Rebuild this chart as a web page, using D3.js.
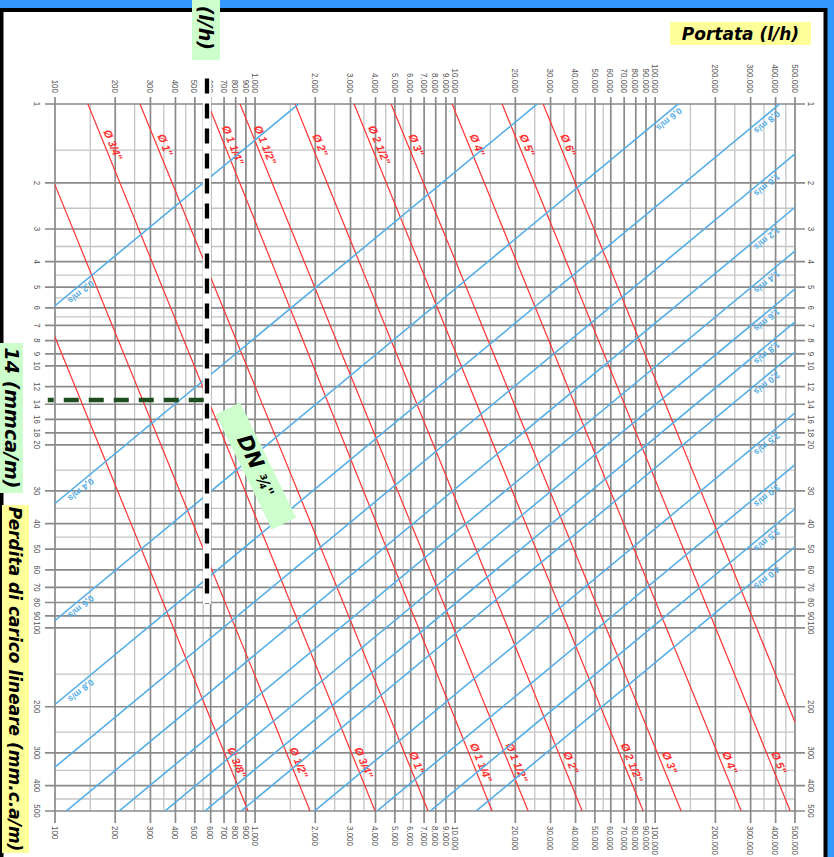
<!DOCTYPE html>
<meta charset='utf-8'>
<style>

body { margin: 0; background: #3399ff; overflow: hidden; }
svg { display: block; }
svg text { font-family: 'Liberation Sans', Arial, sans-serif; }
.grid .major { stroke: #8a8a8a; stroke-width: 1.7; }
.grid .minor { stroke: #c4c4c4; stroke-width: 1.3; }
.tick-lbl { font-size: 9.5px; fill: #555; }
.pipes path { fill: none; stroke: #ff3333; stroke-width: 1.2; }
.pipes text { fill: #ff3030; font-size: 11px; font-style: italic; font-weight: bold; }
.vels path { fill: none; stroke: #55aee6; stroke-width: 1.6; }
.vels text { fill: #55aee6; font-size: 9px; font-weight: bold; }
.note { font-family: 'DejaVu Sans', Verdana, sans-serif !important; font-weight: bold; font-style: italic; fill: #000; }

</style>

<script src='https://d3js.org/d3.v7.min.js'></script>

<script>
window.onload = () => {
'use strict'

// Data (flow l/h vs. head loss mm.c.a/m, both log)

let flowTicks = [100, 200, 300, 400, 500, 600, 700, 800, 900,
		1000, 2000, 3000, 4000, 5000, 6000, 7000, 8000, 9000,
		10000, 20000, 30000, 40000, 50000, 60000, 70000, 80000, 90000,
		100000, 200000, 300000, 400000, 500000],
	flowMinor = [150, 250, 350, 450, 550, 1500, 2500, 3500, 4500, 5500,
		15000, 25000, 35000, 45000, 55000, 150000, 250000, 350000, 450000],
	lossTicks = [1, 2, 3, 4, 5, 6, 7, 8, 9, 10, 12, 14, 16, 18, 20,
		30, 40, 50, 60, 70, 80, 90, 100, 200, 300, 400, 500],
	lossMinor = [1.5, 2.5, 3.5, 4.5, 5.5, 6.5, 25, 35, 45, 150, 250, 350, 450]

// pipe diameters: flow at 1 mm/m and at 500 mm/m
let pipes = ['3/8"', '1/2"', '3/4"', '1"', '1 1/4"', '1 1/2"', '2"', '2 1/2"', '3"', '4"', '5"', '6"'],
	pipeFlowAt1 = [33.5, 68.4, 146, 266, 582, 841, 1585, 3126, 4786, 9660, 17180, 27540],
	pipeFlowAt500 = [923, 1884, 3981, 7328, 15310, 23170, 43150, 87100, 134900, 269200, 473200, 758600]

// velocity lines: head loss at 100 l/h and at 500.000 l/h
let vels = ['0,2', '0,4', '0,6', '0,8', '1,0', '1,2', '1,4', '1,6', '1,8', '2,0', '2,5', '3,0', '3,5', '4,0'],
	velLossAt100 = [5.89, 33.5, 93.7, 196, 340, 543, 798, 1114, 1490, 1940, 3311, 5224, 7690, 10750],
	velLossAt500k = [0.0269, 0.153, 0.427, 0.894, 1.55, 2.48, 3.64, 5.08, 6.79, 8.85, 15.1, 23.8, 35.1, 49.0],
	velLeftLabels = ['0,2', '0,4', '0,6', '0,8'],
	velRightLabels = ['0,6', '0,8', '1,0', '1,2', '1,4', '1,6', '1,8', '2,0', '2,5', '3,0', '3,5', '4,0']

// worked example: DN 3/4" at ~600 l/h -> 14 mm/m
let exFlow = 575, exLoss = 13.5


// Basic d3 boilerplate

let width = 834, height = 857,
	box = {left: 55, right: 795, top: 104, bottom: 811}

let svg = d3.select('body').append('svg')
	.attr('width', width).attr('height', height)

svg.append('rect')
	.attr('x', 1.5).attr('y', 10).attr('width', 824).attr('height', 900)
	.attr('fill', '#fff').attr('stroke', '#000').attr('stroke-width', 4)

let x = d3.scaleLog([100, 500000], [box.left, box.right]),
	y = d3.scaleLog([1, 500], [box.top, box.bottom]),
	fmt = d3.formatLocale({decimal: ',', thousands: '.', grouping: [3], currency: ['', '']}).format(',')

svg.append('clipPath').attr('id', 'plot')
	.append('rect').attr('x', box.left).attr('y', box.top)
	.attr('width', box.right - box.left).attr('height', box.bottom - box.top)

// Grid

let grid = svg.append('g').attr('class', 'grid')
grid.selectAll('line.vmin').data(flowMinor).join('line').attr('class', 'minor')
	.attr('x1', d => x(d)).attr('x2', d => x(d)).attr('y1', box.top).attr('y2', box.bottom)
grid.selectAll('line.hmin').data(lossMinor).join('line').attr('class', 'minor')
	.attr('y1', d => y(d)).attr('y2', d => y(d)).attr('x1', box.left).attr('x2', box.right)
grid.selectAll('line.vmaj').data(flowTicks).join('line').attr('class', 'major')
	.attr('x1', d => x(d)).attr('x2', d => x(d)).attr('y1', box.top - 7).attr('y2', box.bottom + 12)
grid.selectAll('line.hmaj').data(lossTicks).join('line').attr('class', 'major')
	.attr('y1', d => y(d)).attr('y2', d => y(d)).attr('x1', box.left - 10).attr('x2', box.right + 10)

// Tick labels (all rotated, like the scanned sheet; narrow as on the print)

let lbl = svg.append('g')
lbl.selectAll('text.top').data(flowTicks).join('text').attr('class', 'tick-lbl')
	.attr('transform', d => `translate(${x(d)},93) rotate(90) scale(.84,1)`)
	.attr('text-anchor', 'end').attr('dy', '.35em').text(fmt)
lbl.selectAll('text.bot').data(flowTicks).join('text').attr('class', 'tick-lbl')
	.attr('transform', d => `translate(${x(d)},826) rotate(90) scale(.84,1)`)
	.attr('dy', '.35em').text(fmt)
for (let lx of [37.5, 811])
	lbl.selectAll(null).data(lossTicks).join('text').attr('class', 'tick-lbl')
		.attr('transform', d => `translate(${lx},${y(d)}) rotate(90) scale(.84,1)`)
		.attr('text-anchor', 'middle').attr('dy', '.35em').text(d => d)

// Pipe and velocity lines

let line = d3.line().x(d => x(d[0])).y(d => y(d[1])),
	angle = (p, q) => Math.atan2(y(q[1]) - y(p[1]), x(q[0]) - x(p[0])) * 180 / Math.PI,
	// point on a log-log straight line at given loss / flow
	atLoss = (p, q, j) => [p[0] * Math.pow(q[0] / p[0], Math.log(j / p[1]) / Math.log(q[1] / p[1])), j],
	atFlow = (p, q, f) => [f, p[1] * Math.pow(q[1] / p[1], Math.log(f / p[0]) / Math.log(q[0] / p[0]))]

let pipeData = pipes.map((name, i) => ({name, p: [pipeFlowAt1[i], 1], q: [pipeFlowAt500[i], 500]})),
	velData = vels.map((name, i) => ({name, p: [100, velLossAt100[i]], q: [500000, velLossAt500k[i]]}))

let pg = svg.append('g').attr('class', 'pipes')
pg.append('g').attr('clip-path', 'url(#plot)')
	.selectAll('path').data(pipeData).join('path').attr('d', d => line([d.p, d.q]))

let pipeLabels = []
for (let d of pipeData) for (let j of [1.47, 335]) {
	let pt = atLoss(d.p, d.q, j)
	if (pt[0] >= 100 && pt[0] <= 500000) pipeLabels.push({d, pt})
}
pg.selectAll('text').data(pipeLabels).join('text')
	.attr('transform', l => `translate(${x(l.pt[0])},${y(l.pt[1])}) rotate(${angle(l.d.p, l.d.q)})`)
	.attr('text-anchor', 'middle').attr('y', -4)
	.text(l => `Ø ${l.d.name}`)

let vg = svg.append('g').attr('class', 'vels')
vg.append('g').attr('clip-path', 'url(#plot)')
	.selectAll('path').data(velData).join('path').attr('d', d => line([d.p, d.q]))

let velLabels = []
for (let d of velData) {
	if (velLeftLabels.includes(d.name)) velLabels.push({d, pt: atFlow(d.p, d.q, x.invert(77))})
	if (velRightLabels.includes(d.name)) {
		let xr = Math.min(763, x(atLoss(d.p, d.q, 1)[0]) - 13)
		velLabels.push({d, pt: atFlow(d.p, d.q, x.invert(xr))})
	}
}
vg.selectAll('text').data(velLabels).join('text')
	.attr('transform', l => `translate(${x(l.pt[0])},${y(l.pt[1])}) rotate(${angle(l.d.p, l.d.q) + 180})`)
	.attr('text-anchor', 'middle').attr('y', -3)
	.text(l => `${l.d.name} m/s`)

// Worked example overlay

let ex = svg.append('g')
ex.append('line')
	.attr('x1', x(exFlow)).attr('x2', x(exFlow)).attr('y1', y(0.8)).attr('y2', y(81))
	.attr('stroke', '#fff').attr('stroke-width', 8)
ex.append('line')
	.attr('x1', x(exFlow)).attr('x2', x(exFlow)).attr('y1', y(0.8)).attr('y2', y(81))
	.attr('stroke', '#000').attr('stroke-width', 4.3).attr('stroke-dasharray', '15 10')
ex.append('line')
	.attr('x1', x(92)).attr('x2', x(exFlow + 5)).attr('y1', y(exLoss)).attr('y2', y(exLoss))
	.attr('stroke', '#1f4d1f').attr('stroke-width', 4.5).attr('stroke-dasharray', '6 10 15 10 15 10 15 10 15 10 15 10 15 10')

let dn = ex.append('g').attr('transform', 'translate(256,466) rotate(64)')
dn.append('rect').attr('x', -64).attr('y', -13.5).attr('width', 128).attr('height', 27).attr('fill', '#ccffcc')
dn.append('text').attr('class', 'note').attr('text-anchor', 'middle').attr('dy', '.36em')
	.call(t => {
		t.append('tspan').attr('font-size', 21).text('DN ')
		t.append('tspan').attr('font-size', 15).text('¾"') })

// Axis titles

let notes = svg.append('g')
notes.append('rect').attr('x', 192).attr('y', -10).attr('width', 28).attr('height', 70).attr('fill', '#ccffcc')
notes.append('text').attr('class', 'note').attr('font-size', 19)
	.attr('transform', 'translate(206,50) rotate(90)').attr('text-anchor', 'end').attr('dy', '.36em')
	.text('(l/h)')

notes.append('rect').attr('x', 0).attr('y', 343).attr('width', 23).attr('height', 150).attr('fill', '#ccffcc')
notes.append('text').attr('class', 'note').attr('font-size', 19)
	.attr('transform', 'translate(11.5,418) rotate(90)').attr('text-anchor', 'middle').attr('dy', '.36em')
	.text('14 (mmca/m)')

notes.append('rect').attr('x', 2).attr('y', 505).attr('width', 27).attr('height', 348).attr('fill', '#ffff99')
notes.append('text').attr('class', 'note').attr('font-size', 17)
	.attr('transform', 'translate(15.5,679) rotate(90)').attr('text-anchor', 'middle').attr('dy', '.36em')
	.text('Perdita di carico lineare (mm.c.a/m)')

notes.append('rect').attr('x', 670).attr('y', 22).attr('width', 141).attr('height', 23).attr('fill', '#ffff99')
notes.append('text').attr('class', 'note').attr('font-size', 17)
	.attr('x', 740.5).attr('y', 33.5).attr('text-anchor', 'middle').attr('dy', '.36em')
	.text('Portata (l/h)')

}
</script>
